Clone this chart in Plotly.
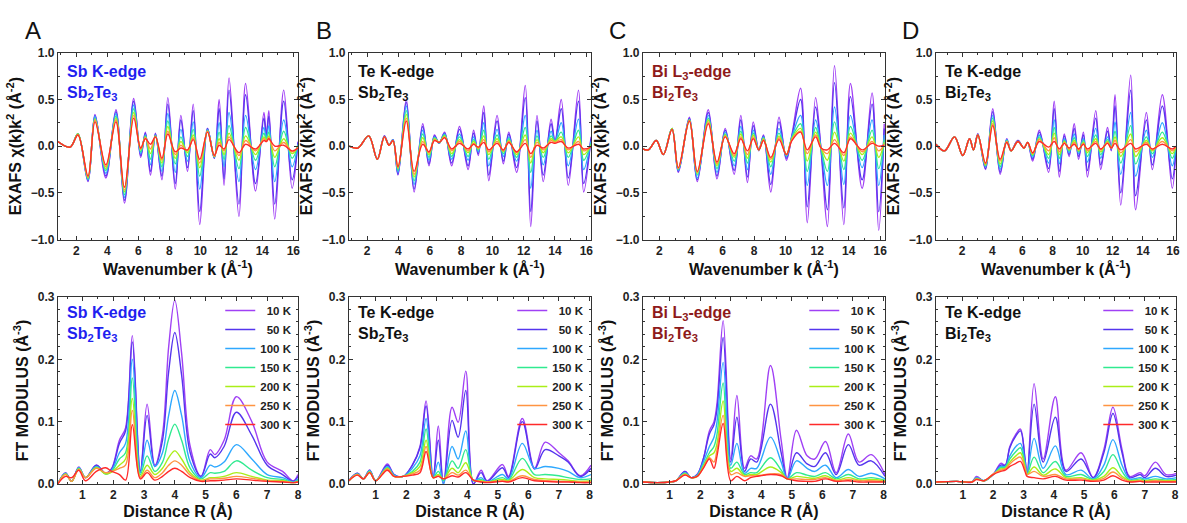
import plotly.graph_objects as go

W, H = 1187, 523
FONT = "Liberation Sans, Arial, sans-serif"

TEMPS = ["\u00a0\u00a010 K", "\u00a0\u00a050 K", "100 K", "150 K", "200 K", "250 K", "300 K"]
COLORS = ["#a040f5", "#5535ee", "#2ea8ff", "#30ea90", "#aaee18", "#ff9442", "#ff2a2a"]

# ---------------- EXAFS chi(k)k^2 (top row) ----------------
A_k = [0.8, 1.6, 2.1, 2.75, 3.2, 3.9, 4.55, 5.1, 5.7, 6.15, 6.45, 6.78, 7.1, 7.52, 7.9, 8.38, 8.74, 9.17,
       9.54, 9.96, 10.46, 10.9, 11.21, 11.53, 11.85, 12.49, 12.92, 13.56, 14.1, 14.26, 14.42, 14.8, 15.38, 15.92, 16.3]
A_chi = [
    [0.05, -0.01, 0.13, -0.38, 0.34, -0.34, 0.39, -0.61, 0.51, -0.12, 0.15, -0.31, 0.14, -0.36, 0.52, -0.46, 0.33, -0.27, 0.45, -0.84, 0.19, -0.13, 0.50, -0.42, 0.73, -0.75, 0.67, -0.48, 0.36, 0.12, 0.38, -0.78, 0.60, -0.45, 0.05],
    [0.05, -0.01, 0.13, -0.37, 0.33, -0.32, 0.37, -0.58, 0.48, -0.10, 0.14, -0.27, 0.13, -0.32, 0.45, -0.40, 0.28, -0.23, 0.38, -0.70, 0.19, -0.13, 0.40, -0.35, 0.60, -0.62, 0.55, -0.40, 0.30, 0.10, 0.32, -0.62, 0.48, -0.36, 0.04],
    [0.05, -0.01, 0.13, -0.36, 0.32, -0.29, 0.35, -0.55, 0.44, -0.08, 0.12, -0.20, 0.12, -0.27, 0.35, -0.28, 0.18, -0.16, 0.26, -0.46, 0.18, -0.12, 0.25, -0.22, 0.36, -0.38, 0.33, -0.25, 0.20, 0.08, 0.22, -0.38, 0.28, -0.22, 0.02],
    [0.05, -0.01, 0.13, -0.35, 0.30, -0.26, 0.32, -0.52, 0.40, -0.06, 0.11, -0.14, 0.11, -0.22, 0.27, -0.19, 0.10, -0.11, 0.18, -0.32, 0.17, -0.12, 0.15, -0.14, 0.22, -0.24, 0.20, -0.15, 0.14, 0.07, 0.15, -0.22, 0.16, -0.13, 0.01],
    [0.05, -0.01, 0.13, -0.34, 0.29, -0.24, 0.30, -0.49, 0.36, -0.04, 0.10, -0.08, 0.11, -0.18, 0.21, -0.13, 0.05, -0.07, 0.12, -0.23, 0.16, -0.11, 0.08, -0.09, 0.14, -0.15, 0.11, -0.09, 0.10, 0.06, 0.11, -0.12, 0.08, -0.08, 0.00],
    [0.05, -0.01, 0.12, -0.33, 0.28, -0.22, 0.28, -0.47, 0.33, -0.03, 0.09, -0.03, 0.10, -0.15, 0.16, -0.09, 0.01, -0.05, 0.09, -0.18, 0.16, -0.11, 0.04, -0.05, 0.10, -0.10, 0.06, -0.05, 0.08, 0.05, 0.09, -0.05, 0.04, -0.06, -0.01],
    [0.05, -0.01, 0.12, -0.32, 0.26, -0.20, 0.26, -0.44, 0.30, -0.02, 0.08, 0.02, 0.10, -0.13, 0.13, -0.06, -0.02, -0.04, 0.07, -0.14, 0.15, -0.10, 0.01, -0.03, 0.07, -0.07, 0.02, -0.03, 0.06, 0.05, 0.08, 0.00, 0.01, -0.05, -0.02],
]

B_k = [0.85, 1.4, 2.1, 2.65, 3.1, 3.4, 3.65, 3.97, 4.5, 5.0, 5.55, 5.95, 6.3, 6.6, 6.95, 7.4, 7.9, 8.45, 8.8, 9.1,
       9.45, 9.77, 10.3, 10.7, 11.05, 11.55, 12.1, 12.45, 12.85, 13.25, 13.75, 14.0, 14.4, 14.85, 15.5, 15.83, 16.3]
B_chi = [
    [0.0, -0.02, 0.11, -0.14, 0.11, 0.01, 0.07, -0.31, 0.50, -0.49, 0.24, -0.21, 0.12, 0.03, 0.15, -0.21, 0.21, -0.25, 0.17, -0.10, 0.43, -0.37, 0.33, -0.19, 0.15, -0.28, 0.65, -0.86, 0.33, -0.38, 0.29, 0.05, 0.50, -0.42, 0.60, -0.49, 0.10],
    [0.0, -0.02, 0.11, -0.14, 0.11, 0.01, 0.07, -0.30, 0.47, -0.46, 0.21, -0.19, 0.11, 0.03, 0.14, -0.18, 0.18, -0.21, 0.14, -0.08, 0.36, -0.31, 0.27, -0.16, 0.13, -0.23, 0.52, -0.70, 0.27, -0.31, 0.24, 0.05, 0.40, -0.34, 0.48, -0.40, 0.08],
    [0.0, -0.02, 0.11, -0.14, 0.10, 0.01, 0.07, -0.28, 0.43, -0.41, 0.17, -0.15, 0.10, 0.03, 0.13, -0.14, 0.13, -0.15, 0.10, -0.06, 0.25, -0.21, 0.18, -0.11, 0.10, -0.16, 0.33, -0.45, 0.17, -0.20, 0.16, 0.05, 0.25, -0.21, 0.29, -0.25, 0.05],
    [0.0, -0.02, 0.11, -0.14, 0.10, 0.01, 0.06, -0.26, 0.38, -0.37, 0.13, -0.12, 0.09, 0.04, 0.12, -0.11, 0.10, -0.11, 0.07, -0.04, 0.17, -0.14, 0.12, -0.08, 0.08, -0.12, 0.20, -0.28, 0.11, -0.12, 0.11, 0.05, 0.15, -0.12, 0.17, -0.15, 0.03],
    [0.0, -0.02, 0.11, -0.14, 0.10, 0.01, 0.06, -0.24, 0.34, -0.33, 0.09, -0.09, 0.08, 0.04, 0.11, -0.08, 0.07, -0.07, 0.05, -0.03, 0.11, -0.09, 0.08, -0.06, 0.06, -0.09, 0.12, -0.18, 0.07, -0.07, 0.08, 0.05, 0.10, -0.07, 0.10, -0.09, 0.01],
    [0.0, -0.02, 0.11, -0.14, 0.10, 0.01, 0.06, -0.23, 0.30, -0.30, 0.05, -0.07, 0.07, 0.04, 0.10, -0.05, 0.05, -0.05, 0.03, -0.02, 0.07, -0.06, 0.05, -0.05, 0.05, -0.07, 0.07, -0.12, 0.04, -0.04, 0.06, 0.04, 0.07, -0.04, 0.05, -0.05, 0.0],
    [0.0, -0.02, 0.11, -0.14, 0.10, 0.01, 0.06, -0.22, 0.27, -0.27, 0.02, -0.06, 0.06, 0.04, 0.09, -0.03, 0.03, -0.03, 0.02, -0.01, 0.04, -0.04, 0.03, -0.04, 0.04, -0.06, 0.03, -0.08, 0.01, -0.02, 0.04, 0.03, 0.05, -0.02, 0.02, -0.03, -0.01],
]

C_k = [0.85, 1.3, 1.8, 2.25, 2.8, 3.2, 3.9, 4.4, 5.1, 5.65, 6.17, 6.74, 7.16, 7.58, 7.95, 8.3, 8.6, 9.06, 9.58,
       10.05, 10.4, 10.95, 11.37, 11.9, 12.25, 12.65, 13.1, 13.69, 14.11, 14.85, 15.48, 15.9, 16.25]
C_chi = [
    [-0.02, -0.04, 0.06, -0.09, 0.19, -0.28, 0.31, -0.38, 0.39, -0.35, 0.19, -0.30, 0.33, -0.39, 0.26, -0.05, 0.12, -0.49, 0.31, -0.15, 0.12, 0.62, -0.82, 0.52, -0.05, -0.86, 0.86, -0.84, 0.67, -0.45, 0.57, -0.90, 0.24],
    [-0.02, -0.04, 0.06, -0.09, 0.19, -0.27, 0.30, -0.36, 0.36, -0.32, 0.17, -0.26, 0.28, -0.33, 0.22, -0.04, 0.11, -0.41, 0.26, -0.13, 0.11, 0.50, -0.65, 0.42, -0.04, -0.68, 0.68, -0.66, 0.53, -0.36, 0.45, -0.70, 0.19],
    [-0.02, -0.04, 0.06, -0.09, 0.19, -0.26, 0.29, -0.34, 0.33, -0.28, 0.15, -0.21, 0.21, -0.25, 0.17, -0.04, 0.10, -0.30, 0.19, -0.11, 0.10, 0.33, -0.42, 0.28, -0.03, -0.42, 0.42, -0.41, 0.33, -0.23, 0.28, -0.42, 0.12],
    [-0.02, -0.04, 0.06, -0.09, 0.19, -0.25, 0.28, -0.31, 0.30, -0.24, 0.13, -0.16, 0.16, -0.18, 0.14, -0.04, 0.09, -0.22, 0.14, -0.10, 0.09, 0.24, -0.27, 0.20, -0.03, -0.27, 0.26, -0.25, 0.21, -0.15, 0.17, -0.24, 0.07],
    [-0.02, -0.04, 0.06, -0.09, 0.19, -0.24, 0.28, -0.29, 0.28, -0.21, 0.12, -0.12, 0.13, -0.13, 0.12, -0.04, 0.08, -0.17, 0.11, -0.09, 0.08, 0.19, -0.16, 0.15, -0.02, -0.15, 0.15, -0.16, 0.14, -0.09, 0.10, -0.12, 0.04],
    [-0.02, -0.04, 0.06, -0.09, 0.18, -0.24, 0.27, -0.28, 0.26, -0.19, 0.11, -0.10, 0.10, -0.09, 0.10, -0.04, 0.07, -0.14, 0.09, -0.09, 0.07, 0.16, -0.08, 0.12, -0.02, -0.08, 0.07, -0.10, 0.10, -0.06, 0.05, -0.05, 0.02],
    [-0.02, -0.04, 0.06, -0.09, 0.18, -0.23, 0.27, -0.27, 0.24, -0.17, 0.10, -0.08, 0.08, -0.05, 0.08, -0.04, 0.06, -0.12, 0.07, -0.09, 0.06, 0.15, -0.04, 0.10, -0.02, -0.04, 0.03, -0.07, 0.08, -0.04, 0.03, 0.00, 0.01],
]

D_k = [0.25, 0.83, 1.49, 2.04, 2.49, 2.75, 3.04, 3.55, 4.03, 4.52, 4.96, 5.25, 5.7, 6.1, 6.35, 6.68, 7.12, 7.74, 8.11,
       8.45, 8.78, 9.1, 9.44, 9.73, 10.05, 10.32, 10.87, 11.2, 11.65, 11.9, 12.15, 12.53, 13.19, 13.52, 14.23, 14.63,
       15.29, 15.95, 16.2]
D_chi = [
    [0.02, -0.05, 0.10, -0.10, 0.08, -0.04, 0.13, -0.25, 0.40, -0.30, 0.08, -0.05, 0.06, -0.02, 0.04, -0.16, 0.17, -0.28, 0.48, -0.33, 0.13, -0.11, 0.24, -0.14, 0.15, -0.33, 0.38, -0.25, 0.20, -0.05, 0.55, -0.63, 0.76, -0.68, 0.36, -0.25, 0.55, -0.45, 0.00],
    [0.02, -0.05, 0.10, -0.10, 0.08, -0.04, 0.13, -0.24, 0.37, -0.28, 0.07, -0.05, 0.06, -0.02, 0.04, -0.14, 0.15, -0.24, 0.40, -0.27, 0.11, -0.09, 0.19, -0.11, 0.12, -0.26, 0.30, -0.20, 0.16, -0.04, 0.43, -0.50, 0.60, -0.53, 0.28, -0.20, 0.43, -0.35, 0.00],
    [0.02, -0.05, 0.10, -0.10, 0.08, -0.04, 0.12, -0.22, 0.33, -0.25, 0.07, -0.05, 0.05, -0.02, 0.04, -0.12, 0.12, -0.18, 0.28, -0.19, 0.08, -0.07, 0.13, -0.08, 0.08, -0.17, 0.19, -0.13, 0.10, -0.03, 0.26, -0.30, 0.36, -0.32, 0.17, -0.12, 0.25, -0.21, 0.00],
    [0.02, -0.05, 0.10, -0.10, 0.08, -0.04, 0.12, -0.21, 0.30, -0.22, 0.06, -0.05, 0.05, -0.02, 0.04, -0.10, 0.10, -0.13, 0.20, -0.13, 0.06, -0.05, 0.09, -0.06, 0.06, -0.11, 0.12, -0.09, 0.07, -0.02, 0.16, -0.18, 0.22, -0.19, 0.10, -0.08, 0.15, -0.13, 0.00],
    [0.02, -0.05, 0.10, -0.10, 0.08, -0.04, 0.12, -0.20, 0.27, -0.19, 0.05, -0.05, 0.05, -0.02, 0.04, -0.09, 0.08, -0.09, 0.14, -0.09, 0.05, -0.04, 0.06, -0.05, 0.04, -0.07, 0.08, -0.06, 0.05, -0.02, 0.10, -0.11, 0.13, -0.11, 0.06, -0.05, 0.09, -0.08, 0.00],
    [0.02, -0.05, 0.10, -0.10, 0.08, -0.04, 0.12, -0.19, 0.24, -0.16, 0.05, -0.05, 0.05, -0.02, 0.04, -0.08, 0.07, -0.05, 0.09, -0.06, 0.04, -0.03, 0.04, -0.04, 0.03, -0.05, 0.05, -0.04, 0.04, -0.02, 0.06, -0.07, 0.07, -0.06, 0.04, -0.04, 0.05, -0.05, 0.00],
    [0.02, -0.05, 0.10, -0.10, 0.08, -0.04, 0.12, -0.18, 0.22, -0.14, 0.04, -0.05, 0.05, -0.02, 0.04, -0.07, 0.05, -0.01, 0.05, -0.03, 0.03, -0.02, 0.02, -0.03, 0.02, -0.03, 0.03, -0.03, 0.03, -0.02, 0.03, -0.04, 0.03, -0.03, 0.02, -0.03, 0.02, -0.03, 0.00],
]

# ---------------- FT modulus (bottom row) ----------------
A_R = [0.2, 0.45, 0.65, 0.88, 1.1, 1.45, 1.75, 1.95, 2.2, 2.4, 2.62, 2.88, 3.1, 3.35, 3.6, 3.8, 4.0, 4.22, 4.5,
       4.85, 5.15, 5.3, 5.6, 6.0, 6.5, 7.0, 7.5, 7.85, 8.0]
A_ft = [
    [0.0, 0.018, 0.004, 0.027, 0.01, 0.03, 0.017, 0.025, 0.07, 0.09, 0.238, 0.02, 0.128, 0.03, 0.08, 0.22, 0.295, 0.21, 0.06, 0.012, 0.055, 0.047, 0.07, 0.14, 0.10, 0.035, 0.02, 0.005, 0.015],
    [0.0, 0.017, 0.004, 0.026, 0.01, 0.03, 0.017, 0.024, 0.065, 0.085, 0.228, 0.02, 0.11, 0.028, 0.07, 0.18, 0.243, 0.175, 0.05, 0.012, 0.048, 0.042, 0.06, 0.115, 0.078, 0.03, 0.015, 0.004, 0.012],
    [0.0, 0.017, 0.004, 0.026, 0.01, 0.028, 0.016, 0.022, 0.05, 0.065, 0.20, 0.018, 0.07, 0.028, 0.05, 0.11, 0.15, 0.11, 0.035, 0.01, 0.03, 0.027, 0.035, 0.063, 0.04, 0.015, 0.01, 0.003, 0.008],
    [0.0, 0.016, 0.004, 0.025, 0.01, 0.027, 0.016, 0.02, 0.04, 0.05, 0.17, 0.015, 0.045, 0.02, 0.035, 0.072, 0.096, 0.07, 0.025, 0.008, 0.018, 0.017, 0.02, 0.037, 0.022, 0.01, 0.007, 0.002, 0.006],
    [0.0, 0.016, 0.004, 0.024, 0.01, 0.026, 0.016, 0.019, 0.03, 0.04, 0.137, 0.012, 0.03, 0.015, 0.025, 0.042, 0.053, 0.04, 0.018, 0.006, 0.01, 0.01, 0.012, 0.018, 0.012, 0.006, 0.005, 0.002, 0.004],
    [0.0, 0.015, 0.004, 0.023, 0.01, 0.025, 0.018, 0.02, 0.025, 0.03, 0.118, 0.01, 0.022, 0.01, 0.018, 0.03, 0.037, 0.03, 0.014, 0.005, 0.008, 0.008, 0.009, 0.012, 0.009, 0.005, 0.004, 0.002, 0.003],
    [0.0, 0.012, 0.01, 0.022, 0.005, 0.02, 0.026, 0.02, 0.015, 0.006, 0.095, 0.008, 0.018, 0.006, 0.012, 0.02, 0.025, 0.02, 0.01, 0.004, 0.005, 0.005, 0.006, 0.008, 0.006, 0.004, 0.003, 0.002, 0.003],
]

B_R = [0.12, 0.4, 0.6, 0.8, 1.0, 1.38, 1.6, 1.9, 2.2, 2.45, 2.65, 2.88, 3.05, 3.22, 3.5, 3.7, 3.95, 4.2, 4.45,
       4.65, 5.15, 5.35, 5.8, 6.2, 6.55, 7.0, 7.3, 7.7, 8.05]
B_ft = [
    [0.005, 0.017, 0.008, 0.022, 0.005, 0.032, 0.015, 0.012, 0.03, 0.06, 0.133, 0.01, 0.093, 0.0, 0.123, 0.099, 0.181, 0.0, 0.022, 0.005, 0.031, 0.012, 0.105, 0.025, 0.067, 0.05, 0.037, 0.013, 0.03],
    [0.005, 0.017, 0.008, 0.022, 0.005, 0.03, 0.015, 0.012, 0.03, 0.058, 0.125, 0.01, 0.07, 0.0, 0.102, 0.075, 0.15, 0.0, 0.018, 0.004, 0.026, 0.01, 0.10, 0.024, 0.055, 0.045, 0.035, 0.012, 0.025],
    [0.005, 0.016, 0.008, 0.021, 0.005, 0.028, 0.014, 0.012, 0.025, 0.045, 0.105, 0.01, 0.035, 0.0, 0.06, 0.04, 0.085, 0.005, 0.01, 0.003, 0.015, 0.008, 0.065, 0.025, 0.028, 0.025, 0.02, 0.01, 0.015],
    [0.005, 0.016, 0.008, 0.02, 0.005, 0.026, 0.013, 0.012, 0.02, 0.035, 0.088, 0.01, 0.02, 0.005, 0.037, 0.025, 0.055, 0.005, 0.007, 0.003, 0.01, 0.006, 0.041, 0.015, 0.015, 0.013, 0.01, 0.007, 0.008],
    [0.005, 0.015, 0.008, 0.019, 0.005, 0.025, 0.012, 0.012, 0.018, 0.028, 0.07, 0.01, 0.015, 0.008, 0.025, 0.018, 0.034, 0.006, 0.005, 0.003, 0.007, 0.005, 0.023, 0.01, 0.008, 0.007, 0.006, 0.004, 0.005],
    [0.005, 0.015, 0.008, 0.018, 0.005, 0.024, 0.012, 0.012, 0.016, 0.022, 0.06, 0.01, 0.013, 0.008, 0.018, 0.014, 0.022, 0.006, 0.004, 0.003, 0.005, 0.004, 0.013, 0.007, 0.005, 0.004, 0.004, 0.003, 0.003],
    [0.005, 0.014, 0.008, 0.018, 0.005, 0.022, 0.012, 0.012, 0.014, 0.018, 0.052, 0.01, 0.012, 0.008, 0.013, 0.011, 0.018, 0.006, 0.003, 0.002, 0.004, 0.003, 0.01, 0.005, 0.004, 0.003, 0.003, 0.002, 0.002],
]

C_R = [0.12, 0.6, 1.0, 1.2, 1.5, 1.7, 1.9, 2.1, 2.3, 2.45, 2.55, 2.75, 3.0, 3.2, 3.45, 3.65, 3.85, 4.3, 4.65,
       4.85, 5.15, 5.5, 5.75, 6.1, 6.45, 6.85, 7.2, 7.6, 8.05]
C_ft = [
    [0.003, 0.002, 0.003, 0.005, 0.02, 0.01, 0.015, 0.04, 0.085, 0.10, 0.13, 0.262, 0.04, 0.142, 0.025, 0.045, 0.04, 0.19, 0.07, 0.01, 0.086, 0.045, 0.04, 0.068, 0.018, 0.08, 0.035, 0.047, 0.015],
    [0.003, 0.002, 0.003, 0.005, 0.02, 0.01, 0.015, 0.04, 0.08, 0.095, 0.12, 0.235, 0.035, 0.107, 0.02, 0.04, 0.035, 0.128, 0.05, 0.008, 0.05, 0.032, 0.028, 0.05, 0.015, 0.063, 0.03, 0.037, 0.012],
    [0.003, 0.002, 0.003, 0.005, 0.018, 0.01, 0.014, 0.035, 0.06, 0.075, 0.1, 0.195, 0.03, 0.065, 0.017, 0.025, 0.025, 0.075, 0.035, 0.008, 0.037, 0.025, 0.02, 0.03, 0.01, 0.023, 0.012, 0.017, 0.008],
    [0.003, 0.002, 0.003, 0.005, 0.017, 0.01, 0.013, 0.03, 0.05, 0.06, 0.08, 0.162, 0.025, 0.035, 0.015, 0.018, 0.018, 0.042, 0.022, 0.008, 0.018, 0.014, 0.012, 0.018, 0.008, 0.015, 0.008, 0.01, 0.006],
    [0.003, 0.002, 0.003, 0.005, 0.016, 0.01, 0.012, 0.028, 0.045, 0.05, 0.065, 0.133, 0.02, 0.025, 0.013, 0.015, 0.015, 0.027, 0.018, 0.008, 0.012, 0.01, 0.009, 0.013, 0.006, 0.01, 0.006, 0.007, 0.005],
    [0.003, 0.002, 0.003, 0.005, 0.015, 0.01, 0.012, 0.026, 0.042, 0.035, 0.055, 0.11, 0.015, 0.018, 0.012, 0.013, 0.013, 0.016, 0.015, 0.008, 0.008, 0.007, 0.007, 0.01, 0.005, 0.007, 0.005, 0.005, 0.004],
    [0.003, 0.002, 0.003, 0.005, 0.014, 0.01, 0.012, 0.025, 0.04, 0.025, 0.045, 0.097, 0.005, 0.012, 0.005, 0.01, 0.012, 0.015, 0.013, 0.008, 0.005, 0.004, 0.004, 0.008, 0.004, 0.005, 0.003, 0.003, 0.003],
]

D_R = [0.12, 0.8, 1.3, 1.45, 1.7, 2.0, 2.25, 2.4, 2.55, 2.75, 2.9, 3.05, 3.12, 3.35, 3.65, 4.05, 4.4, 4.9, 5.3,
       5.65, 5.95, 6.25, 6.5, 6.85, 7.0, 7.35, 7.7, 8.05]
D_ft = [
    [0.003, 0.004, 0.003, 0.012, 0.005, 0.015, 0.033, 0.03, 0.06, 0.08, 0.088, 0.04, 0.015, 0.161, 0.04, 0.14, 0.022, 0.05, 0.01, 0.055, 0.123, 0.055, 0.012, 0.018, 0.013, 0.035, 0.015, 0.017],
    [0.003, 0.004, 0.003, 0.01, 0.005, 0.015, 0.03, 0.03, 0.058, 0.077, 0.085, 0.04, 0.015, 0.128, 0.035, 0.107, 0.02, 0.04, 0.01, 0.05, 0.113, 0.05, 0.01, 0.015, 0.01, 0.025, 0.012, 0.014],
    [0.003, 0.004, 0.003, 0.01, 0.005, 0.015, 0.028, 0.028, 0.045, 0.06, 0.065, 0.035, 0.015, 0.073, 0.025, 0.061, 0.015, 0.022, 0.008, 0.03, 0.071, 0.03, 0.008, 0.01, 0.008, 0.012, 0.008, 0.01],
    [0.003, 0.004, 0.003, 0.009, 0.005, 0.015, 0.026, 0.027, 0.04, 0.052, 0.058, 0.03, 0.015, 0.043, 0.018, 0.036, 0.012, 0.015, 0.007, 0.02, 0.047, 0.02, 0.006, 0.008, 0.006, 0.008, 0.006, 0.007],
    [0.003, 0.004, 0.003, 0.008, 0.005, 0.015, 0.024, 0.025, 0.035, 0.045, 0.05, 0.028, 0.015, 0.027, 0.014, 0.024, 0.01, 0.01, 0.006, 0.012, 0.026, 0.012, 0.005, 0.006, 0.005, 0.006, 0.005, 0.005],
    [0.003, 0.004, 0.003, 0.008, 0.005, 0.016, 0.022, 0.024, 0.032, 0.04, 0.043, 0.025, 0.015, 0.02, 0.012, 0.015, 0.008, 0.008, 0.005, 0.009, 0.019, 0.009, 0.004, 0.005, 0.004, 0.005, 0.004, 0.004],
    [0.003, 0.004, 0.003, 0.007, 0.005, 0.015, 0.02, 0.022, 0.028, 0.033, 0.036, 0.02, 0.012, 0.01, 0.008, 0.012, 0.006, 0.006, 0.004, 0.006, 0.013, 0.006, 0.003, 0.004, 0.003, 0.003, 0.003, 0.003],
]

# ---------------- panel texts ----------------
PANEL_LETTERS = ["A", "B", "C", "D"]
EDGE_LINE1 = ["Sb K-edge", "Te K-edge", "Bi L<sub>3</sub>-edge", "Te K-edge"]
EDGE_LINE2 = ["Sb<sub>2</sub>Te<sub>3</sub>", "Sb<sub>2</sub>Te<sub>3</sub>", "Bi<sub>2</sub>Te<sub>3</sub>", "Bi<sub>2</sub>Te<sub>3</sub>"]
EDGE_COLORS = ["#1f1ff0", "#111111", "#8e1a1a", "#111111"]

# ---------------- geometry ----------------
COL_PX = [(58, 299), (350, 593), (645, 888), (939, 1180)]
TOP_PX = (47, 239)
BOT_PX = (298, 490)
K_RANGES = [[0.8, 16.3], [0.83, 16.3], [0.95, 16.3], [0.25, 16.2]]
R_RANGES = [[0.2, 8.0], [0.12, 8.05], [0.12, 8.05], [0.11, 8.03]]
LEGEND_X_PX = [221, 514, 807, 1102]


def sfx(n):
    return "" if n == 1 else str(n)


fig = go.Figure()

exafs = [(A_k, A_chi), (B_k, B_chi), (C_k, C_chi), (D_k, D_chi)]
fts = [(A_R, A_ft), (B_R, B_ft), (C_R, C_ft), (D_R, D_ft)]

for i, (kk, chis) in enumerate(exafs):
    for name, color, y in zip(TEMPS, COLORS, chis):
        fig.add_trace(go.Scatter(
            x=kk, y=y, mode="lines", name=name, showlegend=False,
            line=dict(color=color, width=1.4, shape="spline", smoothing=1.0),
            xaxis="x" + sfx(i + 1), yaxis="y" + sfx(i + 1), hoverinfo="skip"))

for i, (rr, fs) in enumerate(fts):
    leg = "legend" + sfx(i + 1)
    for name, color, y in zip(TEMPS, COLORS, fs):
        fig.add_trace(go.Scatter(
            x=rr, y=y, mode="lines", name=name, showlegend=True, legend=leg,
            line=dict(color=color, width=1.4, shape="spline", smoothing=1.0),
            xaxis=f"x{i + 5}", yaxis=f"y{i + 5}", hoverinfo="skip"))

tick_font = dict(family=FONT, size=12, color="#222222", weight="bold")
title_font = dict(family=FONT, size=16, color="#111111", weight="bold")


def axis_common():
    return dict(showline=True, linecolor="#333333", linewidth=1, mirror="ticks",
                ticks="inside", ticklen=4, tickwidth=1, tickcolor="#333333",
                showgrid=False, zeroline=False, tickfont=tick_font)


layout = dict(width=W, height=H, margin=dict(l=0, r=0, t=0, b=0),
              paper_bgcolor="white", plot_bgcolor="white",
              font=dict(family=FONT, color="#111111"))

for i in range(4):
    xdom = [COL_PX[i][0] / W, COL_PX[i][1] / W]
    # top
    xa = axis_common()
    xa.update(domain=xdom, anchor="y" + sfx(i + 1), range=K_RANGES[i], dtick=2, tick0=0,
              minor=dict(ticks="inside", ticklen=2, dtick=1, tickcolor="#333333"),
              title=dict(text="Wavenumber k (Å<sup>-1</sup>)", font=title_font, standoff=3))
    ya = axis_common()
    ya.update(domain=[1 - TOP_PX[1] / H, 1 - TOP_PX[0] / H], anchor="x" + sfx(i + 1), range=[-1.0, 1.0],
              dtick=0.5, tickformat=".1f",
              minor=dict(ticks="inside", ticklen=2, dtick=0.25, tickcolor="#333333"),
              title=dict(text="EXAFS χ(k)k<sup>2</sup> (Å<sup>-2</sup>)", font=title_font, standoff=5))
    layout["xaxis" + sfx(i + 1)] = xa
    layout["yaxis" + sfx(i + 1)] = ya
    # bottom
    xb = axis_common()
    xb.update(domain=xdom, anchor=f"y{i + 5}", range=R_RANGES[i], dtick=1, tick0=0,
              minor=dict(ticks="inside", ticklen=2, dtick=0.5, tickcolor="#333333"),
              title=dict(text="Distance R (Å)", font=title_font, standoff=1))
    yb = axis_common()
    yb.update(domain=[1 - BOT_PX[1] / H, 1 - BOT_PX[0] / H], anchor=f"x{i + 5}", range=[0, 0.3],
              dtick=0.1, tickformat=".1f",
              minor=dict(ticks="inside", ticklen=2, dtick=0.02, tickcolor="#333333"),
              title=dict(text="FT MODULUS (Å<sup>-3</sup>)", font=title_font, standoff=5))
    layout[f"xaxis{i + 5}"] = xb
    layout[f"yaxis{i + 5}"] = yb
    # legend
    layout["legend" + sfx(i + 1)] = dict(
        x=LEGEND_X_PX[i] / W, y=1 - 297 / H, xanchor="left", yanchor="top",
        bgcolor="rgba(0,0,0,0)", borderwidth=0, itemwidth=30, tracegroupgap=0,
        font=dict(family=FONT, size=11.5, color="#222222", weight="bold"))

annotations = []
for i in range(4):
    annotations.append(dict(text=PANEL_LETTERS[i], xref="paper", yref="paper",
                            x=(COL_PX[i][0] - 25) / W, y=1 - 24 / H, xanchor="center", yanchor="middle",
                            showarrow=False, font=dict(family=FONT, size=24, color="#111111")))
    for axn, top1, top2 in [(i + 1, 0.958, 0.845), (i + 5, 0.975, 0.862)]:
        for txt, yy in [(EDGE_LINE1[i], top1), (EDGE_LINE2[i], top2)]:
            annotations.append(dict(text=txt, xref="x" + sfx(axn) + " domain", yref="y" + sfx(axn) + " domain",
                                    x=0.03, y=yy, xanchor="left", yanchor="top", showarrow=False,
                                    font=dict(family=FONT, size=16, color=EDGE_COLORS[i], weight="bold")))
layout["annotations"] = annotations

fig.update_layout(**layout)
fig.write_html("out.html")
